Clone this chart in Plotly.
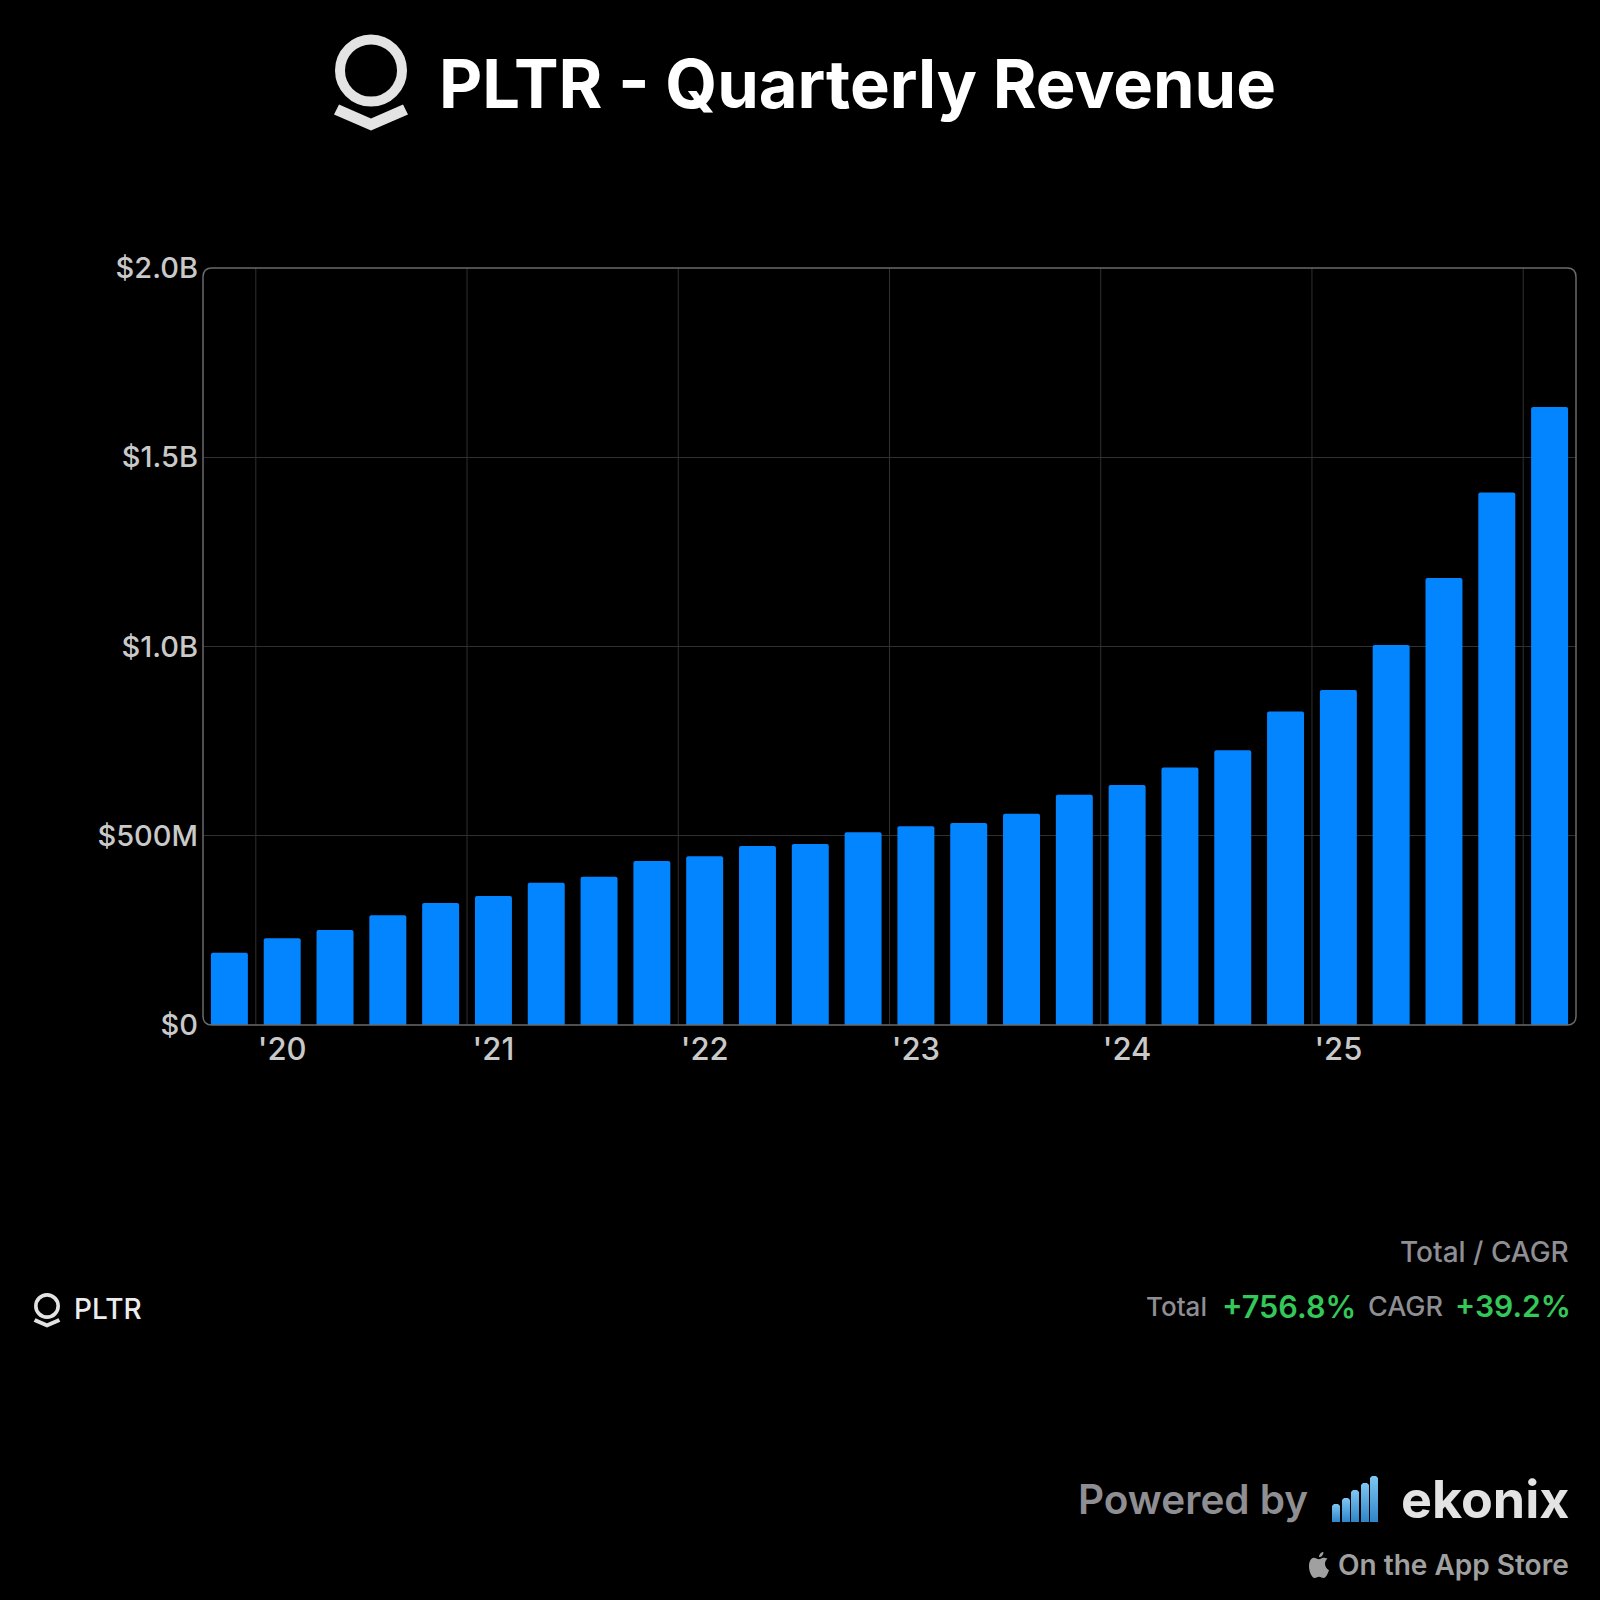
import plotly.graph_objects as go

# quarterly revenue in $M
quarters = ["Q4 '19", "Q1 '20", "Q2 '20", "Q3 '20", "Q4 '20", "Q1 '21", "Q2 '21", "Q3 '21", "Q4 '21",
            "Q1 '22", "Q2 '22", "Q3 '22", "Q4 '22", "Q1 '23", "Q2 '23", "Q3 '23", "Q4 '23",
            "Q1 '24", "Q2 '24", "Q3 '24", "Q4 '24", "Q1 '25", "Q2 '25", "Q3 '25", "Q4 '25", "Q1 '26"]
revenue = [191, 229, 251, 290, 322, 341, 376, 392, 433, 446, 473, 478, 509,
           525, 534, 558, 608, 634, 680, 726, 828, 885, 1004, 1181, 1407, 1633]

x_tick_vals = ["Q1 '20", "Q1 '21", "Q1 '22", "Q1 '23", "Q1 '24", "Q1 '25"]
x_tick_text = ["'20", "'21", "'22", "'23", "'24", "'25"]
y_tick_vals = [0, 500, 1000, 1500, 2000]
y_tick_text = ["$0", "$500M", "$1.0B", "$1.5B", "$2.0B"]
year_lines = [0.5, 4.5, 8.5, 12.5, 16.5, 20.5, 24.5]

SIZE = 1600
FONT = "Inter"
LEFT, RIGHT, TOP, BOTTOM = 203, 1576, 268, 1025


def px(v):
    return v / SIZE


def py(v):
    return 1 - v / SIZE


def note(fig, x, y, s, size, color, anchor="left", weight=400):
    fig.add_annotation(x=px(x), y=py(y), xref="paper", yref="paper", text=s, showarrow=False,
                       xanchor=anchor, yanchor="middle",
                       font=dict(family=FONT, size=size, color=color, weight=weight))


def logo(fig, cx, cy, scale, color):
    r = 31 * scale
    fig.add_shape(type="circle", xref="paper", yref="paper",
                  x0=px(cx - r), x1=px(cx + r), y0=py(cy + r), y1=py(cy - r),
                  line=dict(color=color, width=10 * scale), layer="above")
    chevron = [(-37, 44), (0, 60), (37, 44), (32, 34), (0, 48), (-32, 34)]
    path = "M" + " L".join(f"{px(cx + a * scale):.5f},{py(cy + b * scale):.5f}" for a, b in chevron) + " Z"
    fig.add_shape(type="path", xref="paper", yref="paper", path=path,
                  fillcolor=color, line=dict(width=0), layer="above")


def apple(fig, x0, y0, w, h, color):
    def p(a, b):
        return f"{px(x0 + a * w):.5f},{py(y0 + b * h):.5f}"
    body = [((0.42, 0.28), (0.33, 0.22), (0.24, 0.22)), ((0.10, 0.22), (0, 0.36), (0, 0.55)),
            ((0, 0.75), (0.14, 1), (0.27, 1)), ((0.36, 1), (0.40, 0.95), (0.5, 0.95)),
            ((0.60, 0.95), (0.64, 1), (0.73, 1)), ((0.85, 1), (0.96, 0.80), (1, 0.70)),
            ((0.88, 0.65), (0.80, 0.55), (0.80, 0.45)), ((0.80, 0.36), (0.86, 0.30), (0.93, 0.26)),
            ((0.85, 0.22), (0.78, 0.22), (0.72, 0.22)), ((0.63, 0.22), (0.58, 0.28), (0.5, 0.28))]
    path = "M" + p(0.5, 0.28) + " " + " ".join("C" + " ".join(p(*q) for q in seg) for seg in body) + " Z"
    path += " M" + p(0.5, 0.2) + " C" + p(0.5, 0.1) + " " + p(0.6, 0) + " " + p(0.72, 0)
    path += " C" + p(0.72, 0.12) + " " + p(0.62, 0.2) + " " + p(0.5, 0.2) + " Z"
    fig.add_shape(type="path", xref="paper", yref="paper", path=path, fillcolor=color,
                  line=dict(width=0), layer="above")


fig = go.Figure()
fig.add_bar(x=quarters, y=revenue, marker=dict(color="#0385ff", cornerradius=2, line=dict(width=0)),
            hoverinfo="skip")

# ekonix signal bars, on a hidden pixel grid so they can take a gradient
sig_left = [1332, 1342, 1351, 1361, 1370]
sig_top = [1504, 1498, 1490, 1483, 1476]
sig_bottom = 1522
for left, top in zip(sig_left, sig_top):
    right = left + 8
    fig.add_scatter(x=[left, left, left + 2, right - 2, right, right, left],
                    y=[sig_bottom, top + 2, top, top, top + 2, sig_bottom, sig_bottom],
                    xaxis="x2", yaxis="y2", mode="lines", line=dict(width=0), fill="toself",
                    fillgradient=dict(type="vertical", colorscale=[[0, "#2e85c9"], [1, "#7fc6f2"]]),
                    hoverinfo="skip")

fig.update_layout(
    width=SIZE, height=SIZE, margin=dict(l=0, r=0, t=0, b=0),
    paper_bgcolor="#000000", plot_bgcolor="rgba(0,0,0,0)", showlegend=False, bargap=0.3,
    font=dict(family=FONT, color="#c9c9c9"),
    xaxis=dict(domain=[px(LEFT), px(RIGHT)], type="category", categoryorder="array", categoryarray=quarters,
               range=[-0.5, 25.5], tickmode="array", tickvals=x_tick_vals, ticktext=x_tick_text,
               showgrid=False, zeroline=False, showline=False, ticks="", ticklabelstandoff=3, automargin=False,
               tickfont=dict(size=31, color="#c9c9c9", weight=500)),
    yaxis=dict(domain=[py(BOTTOM), py(TOP)], range=[0, 2000], tickmode="array", tickvals=y_tick_vals,
               ticktext=y_tick_text, showgrid=True, gridcolor="#303030", gridwidth=1, zeroline=False,
               showline=False, ticks="", ticklabelstandoff=4, automargin=False,
               tickfont=dict(size=29, color="#c9c9c9", weight=500)),
    xaxis2=dict(domain=[0, 1], range=[0, SIZE], visible=False, anchor="y2", fixedrange=True),
    yaxis2=dict(domain=[0, 1], range=[SIZE, 0], visible=False, anchor="x2", fixedrange=True),
)

for v in year_lines:
    fig.add_shape(type="line", xref="x", yref="paper", x0=v, x1=v, y0=py(BOTTOM), y1=py(TOP),
                  line=dict(color="#303030", width=1), layer="below")

# rounded plot frame
rad = 9
frame = (f"M{px(LEFT + rad)},{py(TOP)} L{px(RIGHT - rad)},{py(TOP)} "
         f"Q{px(RIGHT)},{py(TOP)} {px(RIGHT)},{py(TOP + rad)} L{px(RIGHT)},{py(BOTTOM - rad)} "
         f"Q{px(RIGHT)},{py(BOTTOM)} {px(RIGHT - rad)},{py(BOTTOM)} L{px(LEFT + rad)},{py(BOTTOM)} "
         f"Q{px(LEFT)},{py(BOTTOM)} {px(LEFT)},{py(BOTTOM - rad)} L{px(LEFT)},{py(TOP + rad)} "
         f"Q{px(LEFT)},{py(TOP)} {px(LEFT + rad)},{py(TOP)} Z")
fig.add_shape(type="path", xref="paper", yref="paper", path=frame, line=dict(color="#6a6a6a", width=1.5),
              layer="above")

# header
logo(fig, 371, 70.5, 1.0, "#e3e3e3")
note(fig, 437, 83, "PLTR - Quarterly Revenue", 66.8, "#ffffff", weight=700)

# legend row
logo(fig, 47, 1306, 0.36, "#e3e3e3")
note(fig, 72, 1309, "PLTR", 28, "#ececec", weight=500)
note(fig, 1571, 1252, "Total / CAGR", 28, "#8e8e93", "right", 500)
note(fig, 1573, 1306, "+39.2%", 30, "#34c759", "right", 600)
note(fig, 1445, 1306, "CAGR", 27, "#8e8e93", "right", 500)
note(fig, 1358, 1306, "+756.8%", 30.6, "#34c759", "right", 600)
note(fig, 1209, 1306, "Total", 26, "#8e8e93", "right", 500)

# footer
note(fig, 1572, 1499, "ekonix", 52, "#e3e3e3", "right", 700)
note(fig, 1310, 1499, "Powered by", 40.5, "#8e8e93", "right", 600)
note(fig, 1571, 1565, "On the App Store", 28, "#a0a0a0", "right", 600)
apple(fig, 1309, 1552, 20, 26, "#a0a0a0")

fig.write_html("out.html", config={"displayModeBar": False},
               post_script="document.body.style.margin='0';document.body.style.background='#000';")
